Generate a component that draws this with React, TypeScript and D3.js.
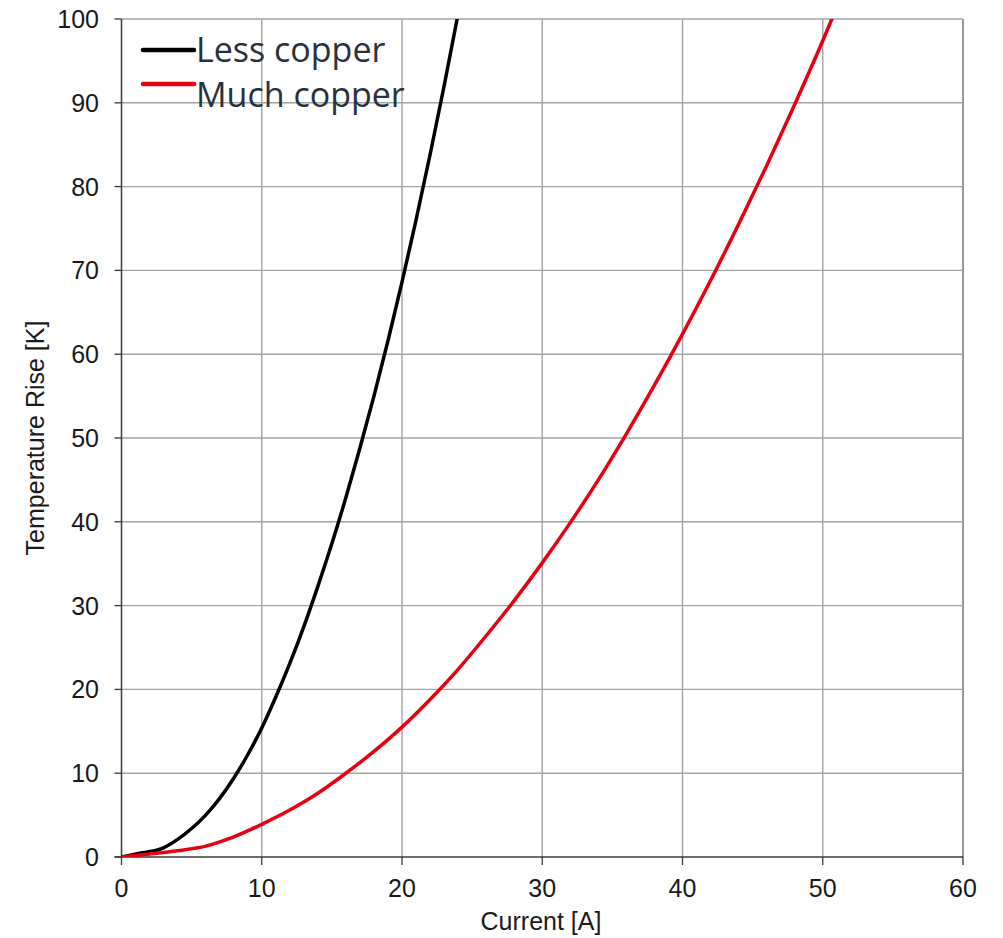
import React from "react";
import * as d3 from "d3";

const xTicks = [0, 10, 20, 30, 40, 50, 60];
const yTicks = [0, 10, 20, 30, 40, 50, 60, 70, 80, 90, 100];

// Less copper: [current A, temperature rise K]
const lessCopper: [number, number][] = [
  [0, 0], [1.5, 0.5], [3, 1.1], [4, 2.1], [5, 3.4], [6, 5.0], [7, 7.0], [8, 9.4],
  [9, 12.2], [10, 15.4], [11, 19.1], [12, 23.1], [13, 27.5], [14, 32.3], [15, 37.4],
  [16, 42.9], [17, 48.8], [18, 55.0], [19, 61.6], [20, 68.6], [21, 76.0], [22, 83.8],
  [23, 92.0], [24, 100.6],
];

// Much copper
const muchCopper: [number, number][] = [
  [0, 0], [2, 0.35], [4, 0.75], [6, 1.3], [8, 2.4], [10, 3.9], [12, 5.6], [14, 7.6],
  [16, 10.0], [18, 12.6], [20, 15.5], [22, 18.8], [24, 22.4], [26, 26.4], [28, 30.6],
  [30, 35.1], [32, 39.9], [34, 45.0], [36, 50.5], [38, 56.3], [40, 62.4], [42, 68.8],
  [44, 75.5], [46, 82.5], [48, 89.8], [50, 97.4], [51, 101.4],
];

const seriesNames = ["Less copper", "Much copper"];
const seriesColors = ["#000000", "#e60012"];

export default function App() {
  const W = 1003, H = 938;
  const x = d3.scaleLinear().domain([0, 60]).range([121.5, 963]);
  const y = d3.scaleLinear().domain([0, 100]).range([857, 19]);
  const line = d3
    .line<[number, number]>()
    .x((d) => x(d[0]))
    .y((d) => y(d[1]))
    .curve(d3.curveMonotoneX);

  const tickFont = "'Liberation Sans', Arial, sans-serif";
  const grid = "#a3a3a3";

  return (
    <svg
      width={W}
      height={H}
      style={{ position: "absolute", left: 0, top: 0, background: "#fff" }}
    >
      <defs>
        <clipPath id="plot">
          <rect x={x(0)} y={y(100)} width={x(60) - x(0)} height={y(0) - y(100)} />
        </clipPath>
      </defs>
      <rect width={W} height={H} fill="#fff" />
      {/* gridlines */}
      {xTicks.filter((t) => t > 0).map((t) => (
        <line
          key={"gx" + t}
          x1={x(t)}
          x2={x(t)}
          y1={y(0)}
          y2={y(100)}
          stroke={t === 60 ? "#6e6e6e" : grid}
          strokeWidth={1.4}
        />
      ))}
      {yTicks.filter((t) => t > 0).map((t) => (
        <line
          key={"gy" + t}
          x1={x(0)}
          x2={x(60)}
          y1={y(t)}
          y2={y(t)}
          stroke={grid}
          strokeWidth={1.4}
        />
      ))}
      {/* axes */}
      <line x1={x(0)} x2={x(0)} y1={y(0)} y2={y(100)} stroke="#3a3a3a" strokeWidth={1.5} />
      <line x1={x(0) - 7} x2={x(60)} y1={y(0)} y2={y(0)} stroke="#3a3a3a" strokeWidth={1.5} />
      {yTicks.map((t) => (
        <line key={"ty" + t} x1={x(0) - 7} x2={x(0)} y1={y(t)} y2={y(t)} stroke="#3a3a3a" strokeWidth={1.3} />
      ))}
      {xTicks.map((t) => (
        <line key={"tx" + t} x1={x(t)} x2={x(t)} y1={y(0)} y2={y(0) + 8} stroke="#3a3a3a" strokeWidth={1.3} />
      ))}
      {/* tick labels */}
      {yTicks.map((t) => (
        <text
          key={"ly" + t}
          x={99}
          y={y(t) + 9}
          textAnchor="end"
          fontFamily={tickFont}
          fontSize={25}
          fill="#1a1a1a"
        >
          {t}
        </text>
      ))}
      {xTicks.map((t) => (
        <text
          key={"lx" + t}
          x={x(t)}
          y={897}
          textAnchor="middle"
          fontFamily={tickFont}
          fontSize={25}
          fill="#1a1a1a"
        >
          {t}
        </text>
      ))}
      <text x={541} y={930} textAnchor="middle" fontFamily={tickFont} fontSize={25} fill="#1a1a1a">
        Current [A]
      </text>
      <text
        transform={`translate(44,438) rotate(-90)`}
        textAnchor="middle"
        fontFamily={tickFont}
        fontSize={25}
        fill="#1a1a1a"
      >
        Temperature Rise [K]
      </text>
      {/* series */}
      <g clipPath="url(#plot)">
        {[lessCopper, muchCopper].map((data, i) => (
          <path
            key={"s" + i}
            d={line(data) || ""}
            fill="none"
            stroke={seriesColors[i]}
            strokeWidth={3.5}
            strokeLinejoin="round"
          />
        ))}
      </g>
      {/* legend */}
      {seriesNames.map((name, i) => (
        <g key={"lg" + i}>
          <line
            x1={143}
            x2={194}
            y1={50 + i * 34}
            y2={50 + i * 34}
            stroke={seriesColors[i]}
            strokeWidth={4.5}
            strokeLinecap="round"
          />
          <text
            x={196}
            y={62 + i * 45}
            fontFamily="'Open Sans', 'Noto Sans', sans-serif"
            fontSize={34}
            fill="#27313c"
          >
            {name}
          </text>
        </g>
      ))}
    </svg>
  );
}
